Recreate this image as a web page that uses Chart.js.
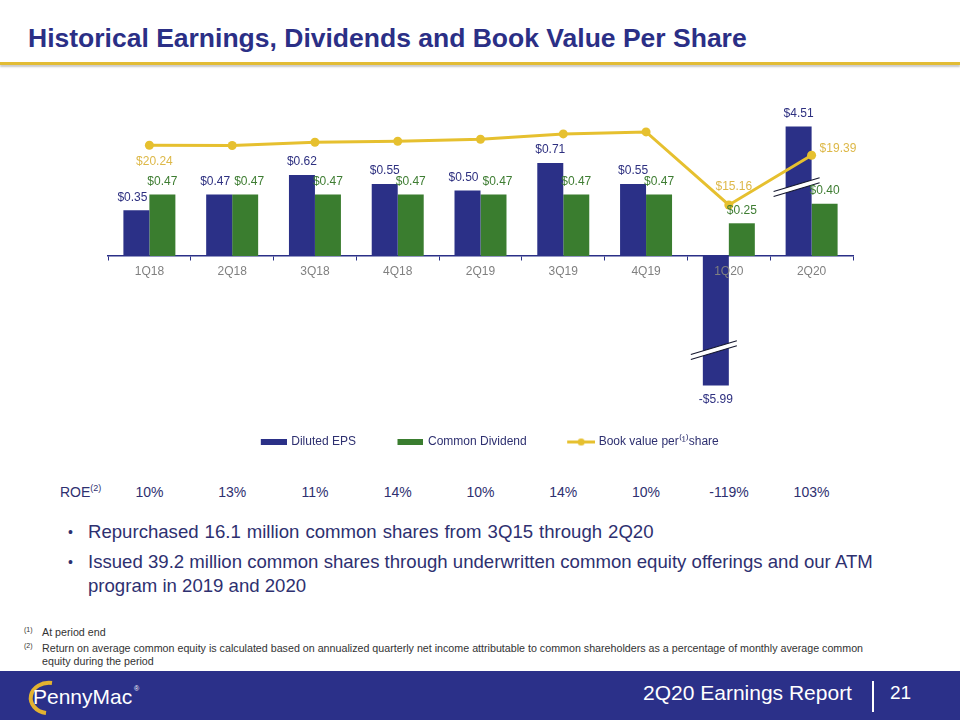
<!DOCTYPE html>
<html>
<head>
<meta charset="utf-8">
<script src="https://cdn.jsdelivr.net/npm/chart.js@4.4.1/dist/chart.umd.min.js"></script>
<style>
  html, body { margin:0; padding:0; }
  body { width:960px; height:720px; position:relative; overflow:hidden; background:#ffffff;
         font-family: Arial, "Liberation Sans", sans-serif; }
  .title { position:absolute; left:28px; top:23px; font-size:26.5px; line-height:30px; font-weight:bold;
           color:#2B2F86; white-space:nowrap; }
  .rule { position:absolute; left:0; top:62px; width:960px; height:3px; background:#E2BC35;
          box-shadow:0 2px 2px rgba(0,0,0,0.22); }
  #wrap { position:absolute; left:0; top:80px; width:960px; height:378px; }
  .roe { position:absolute; top:484px; font-size:14px; line-height:16px; color:#2E3070; white-space:nowrap; }
  .roe sup { font-size:9px; vertical-align:6px; line-height:0; }
  .bul { position:absolute; left:68px; width:840px; font-size:18.6px; line-height:24px; color:#2E3070; }
  .bul .dot { position:absolute; left:0; top:0; font-size:14px; }
  .bul .txt { margin-left:20px; }
  .bul .wide { word-spacing:0.8px; }
  .fn { position:absolute; left:24px; width:900px; font-size:10.7px; line-height:13px; color:#333333; white-space:nowrap; }
  .fn .m { position:absolute; left:0; top:-3px; font-size:7px; }
  .fn .t { margin-left:18px; display:block; }
  .footer { position:absolute; left:0; top:671px; width:960px; height:49px; background:#2B3089; }
  .ftxt { position:absolute; top:10px; font-size:21px; line-height:24px; color:#ffffff; white-space:nowrap; }
  .fnum { position:absolute; left:890px; top:11px; font-size:19px; line-height:22px; color:#ffffff; }
  .fsep { position:absolute; left:872px; top:10px; width:1.5px; height:31px; background:#ffffff; }
</style>
</head>
<body>
<div class="title">Historical Earnings, Dividends and Book Value Per Share</div>
<div class="rule"></div>
<div id="wrap"><canvas id="chart" width="960" height="378"></canvas></div>
<div id="roeRow"></div>

<div class="bul" style="top:520px;"><span class="dot">•</span><div class="txt wide">Repurchased 16.1 million common shares from 3Q15 through 2Q20</div></div>
<div class="bul" style="top:550px;"><span class="dot">•</span><div class="txt">Issued 39.2 million common shares through underwritten common equity offerings and our ATM program in 2019 and 2020</div></div>

<div class="fn" style="top:626px;"><span class="m">(1)</span><span class="t">At period end</span></div>
<div class="fn" style="top:642px;"><span class="m">(2)</span><span class="t">Return on average common equity is calculated based on annualized quarterly net income attributable to common shareholders as a percentage of monthly average common<br>equity during the period</span></div>

<div class="footer">
  <svg style="position:absolute;left:0;top:0" width="200" height="49">
    <path d="M 52 12 A 18 15 0 1 0 46 42" stroke="#E3B230" stroke-width="4" fill="none"/>
    <text x="33" y="33" font-family="Arial,sans-serif" font-size="21" fill="#ffffff">PennyMac</text>
    <text x="134" y="20" font-family="Arial,sans-serif" font-size="7" fill="#ffffff">®</text>
  </svg>
  <div class="ftxt" style="left:643px;">2Q20 Earnings Report</div>
  <div class="fsep"></div>
  <div class="fnum">21</div>
</div>

<script>
// ---------------- data ----------------
const categories = ['1Q18','2Q18','3Q18','4Q18','2Q19','3Q19','4Q19','1Q20','2Q20'];
const dilutedEPS = [0.35, 0.47, 0.62, 0.55, 0.50, 0.71, 0.55, -5.99, 4.51];
const commonDividend = [0.47, 0.47, 0.47, 0.47, 0.47, 0.47, 0.47, 0.25, 0.40];
const bookValuePerShare = [20.24, 20.22, 20.49, 20.58, 20.75, 21.20, 21.37, 15.16, 19.39];
const roe = ['10%','13%','11%','14%','10%','14%','10%','-119%','103%'];
const bookValueLabelIndex = [0, 7, 8];
// EPS values beyond this magnitude are drawn with an axis break (as in the original)
const EPS_BREAK = 0.99;

const seriesNames = ['Diluted EPS', 'Common Dividend', 'Book value per\u207D\u00B9\u207Eshare'];

// ---------------- style ----------------
const C_EPS = '#2B3087', C_DIV = '#3A7D2F', C_BV = '#E6C02F';
const C_EPS_LBL = '#2E3080', C_DIV_LBL = '#3E7D32', C_BV_LBL = '#DDB848';
Chart.defaults.font.family = 'Arial, "Liberation Sans", sans-serif';

function money(v) { return (v < 0 ? '-$' : '$') + Math.abs(v).toFixed(2); }

function rectIcon(color) {
  const c = document.createElement('canvas'); c.width = 46; c.height = 6;
  const x = c.getContext('2d'); x.fillStyle = color; x.fillRect(20, 0, 26, 6); return c;
}
function lineIcon(color) {
  const c = document.createElement('canvas'); c.width = 48; c.height = 9;
  const x = c.getContext('2d'); x.strokeStyle = color; x.lineWidth = 3;
  x.beginPath(); x.moveTo(20, 4.5); x.lineTo(48, 4.5); x.stroke();
  x.fillStyle = color; x.beginPath(); x.arc(34, 4.5, 3.6, 0, Math.PI * 2); x.fill(); return c;
}
const legendIcons = [rectIcon(C_EPS), rectIcon(C_DIV), lineIcon(C_BV)];

const labelPlugin = {
  id: 'valueLabels',
  afterDatasetsDraw(chart) {
    const ctx = chart.ctx;
    const eps = chart.getDatasetMeta(0).data, div = chart.getDatasetMeta(1).data, bv = chart.getDatasetMeta(2).data;
    ctx.save();
    // break marks on truncated bars
    eps.forEach((el, i) => {
      if (Math.abs(dilutedEPS[i]) <= EPS_BREAK) return;
      const cy = dilutedEPS[i] > 0 ? el.y + 60 : el.y - 36;
      const x1 = el.x - 25, x2 = el.x + 21, slope = -0.3, gap = 5;
      const yAt = (x, off) => cy - gap / 2 + off + (x - el.x) * slope;
      ctx.fillStyle = '#ffffff';
      ctx.beginPath();
      ctx.moveTo(x1, yAt(x1, 0)); ctx.lineTo(x2, yAt(x2, 0));
      ctx.lineTo(x2, yAt(x2, gap)); ctx.lineTo(x1, yAt(x1, gap)); ctx.closePath(); ctx.fill();
      ctx.strokeStyle = '#15172E'; ctx.lineWidth = 1.1;
      ctx.beginPath(); ctx.moveTo(x1, yAt(x1, 0)); ctx.lineTo(x2, yAt(x2, 0)); ctx.stroke();
      ctx.beginPath(); ctx.moveTo(x1, yAt(x1, gap)); ctx.lineTo(x2, yAt(x2, gap)); ctx.stroke();
    });
    ctx.font = '12px Arial, "Liberation Sans", sans-serif';
    ctx.textBaseline = 'middle'; ctx.textAlign = 'center';
    categories.forEach((c, i) => {
      const e = eps[i], d = div[i];
      const et = money(dilutedEPS[i]), dt = money(commonDividend[i]);
      let ex = e.x, ey = dilutedEPS[i] >= 0 ? e.y - 13 : e.y + 14;
      let dx = d.x, dy = d.y - 13;
      const ew = ctx.measureText(et).width, dw = ctx.measureText(dt).width;
      if (Math.abs(ey - dy) < 6) {
        const need = (ew + dw) / 2 + 4 - (dx - ex);
        if (need > 0) { ex -= need / 2; dx += need / 2; }
      } else if (ey > dy && ey - dy < 20) {
        ex -= 4;
      }
      ctx.fillStyle = C_EPS_LBL; ctx.fillText(et, ex, ey);
      ctx.fillStyle = C_DIV_LBL; ctx.fillText(dt, dx, dy);
    });
    ctx.fillStyle = C_BV_LBL;
    bookValueLabelIndex.forEach((i, k) => {
      const p = bv[i]; const t = money(bookValuePerShare[i]);
      if (k === 0) { ctx.textAlign = 'center'; ctx.fillText(t, p.x + 5, p.y + 16); }
      else if (i === categories.length - 1) { ctx.textAlign = 'left'; ctx.fillText(t, p.x + 8, p.y - 7); }
      else { ctx.textAlign = 'center'; ctx.fillText(t, p.x + 5, p.y - 18); }
    });
    ctx.restore();
  }
};

const chart = new Chart(document.getElementById('chart'), {
  data: {
    labels: categories,
    datasets: [
      { type: 'bar', label: seriesNames[0], data: dilutedEPS.map(v => Math.max(-EPS_BREAK, Math.min(EPS_BREAK, v))),
        backgroundColor: C_EPS, yAxisID: 'y', order: 2, barPercentage: 1, categoryPercentage: 0.628 },
      { type: 'bar', label: seriesNames[1], data: commonDividend,
        backgroundColor: C_DIV, yAxisID: 'y', order: 2, barPercentage: 1, categoryPercentage: 0.628 },
      { type: 'line', label: seriesNames[2], data: bookValuePerShare, yAxisID: 'y2', order: 1,
        borderColor: C_BV, backgroundColor: C_BV, borderWidth: 3, pointRadius: 4.5, pointHoverRadius: 4.5,
        pointBackgroundColor: C_BV, pointBorderWidth: 0, tension: 0, fill: false }
    ]
  },
  options: {
    responsive: false, animation: false, devicePixelRatio: 1,
    layout: { padding: { left: 108, right: 107, top: 19, bottom: 0 } },
    plugins: {
      tooltip: { enabled: false },
      legend: {
        position: 'bottom',
        labels: {
          usePointStyle: true, pointStyleWidth: 43, padding: 23, color: '#2E3070',
          font: { size: 12 },
          generateLabels(ch) {
            const items = Chart.defaults.plugins.legend.labels.generateLabels(ch);
            items.forEach(it => { it.pointStyle = legendIcons[it.datasetIndex]; });
            return items.sort((a, b) => a.datasetIndex - b.datasetIndex);
          }
        }
      }
    },
    scales: {
      x: { position: { y: 0 }, offset: true,
           grid: { display: true, drawOnChartArea: false, drawTicks: true, tickLength: 4, color: '#2B3087', offset: true },
           border: { color: '#2B3087', width: 1.5 },
           ticks: { color: '#808080', font: { size: 12 }, padding: 4, z: 1, maxRotation: 0 } },
      y: { display: false, min: -1.2, max: 1.2 },
      y2: { display: false, min: -2.53, max: 24.17 }
    }
  },
  plugins: [labelPlugin]
});

// ROE row aligned with the chart's categories
const row = document.getElementById('roeRow');
const head = document.createElement('div'); head.className = 'roe'; head.style.left = '60px';
head.innerHTML = 'ROE<sup>(2)</sup>'; row.appendChild(head);
roe.forEach((t, i) => {
  const d = document.createElement('div'); d.className = 'roe'; d.textContent = t;
  row.appendChild(d);
  const x = chart.scales.x.getPixelForValue(i);
  d.style.left = (x - d.offsetWidth / 2) + 'px';
});
</script>
</body>
</html>
